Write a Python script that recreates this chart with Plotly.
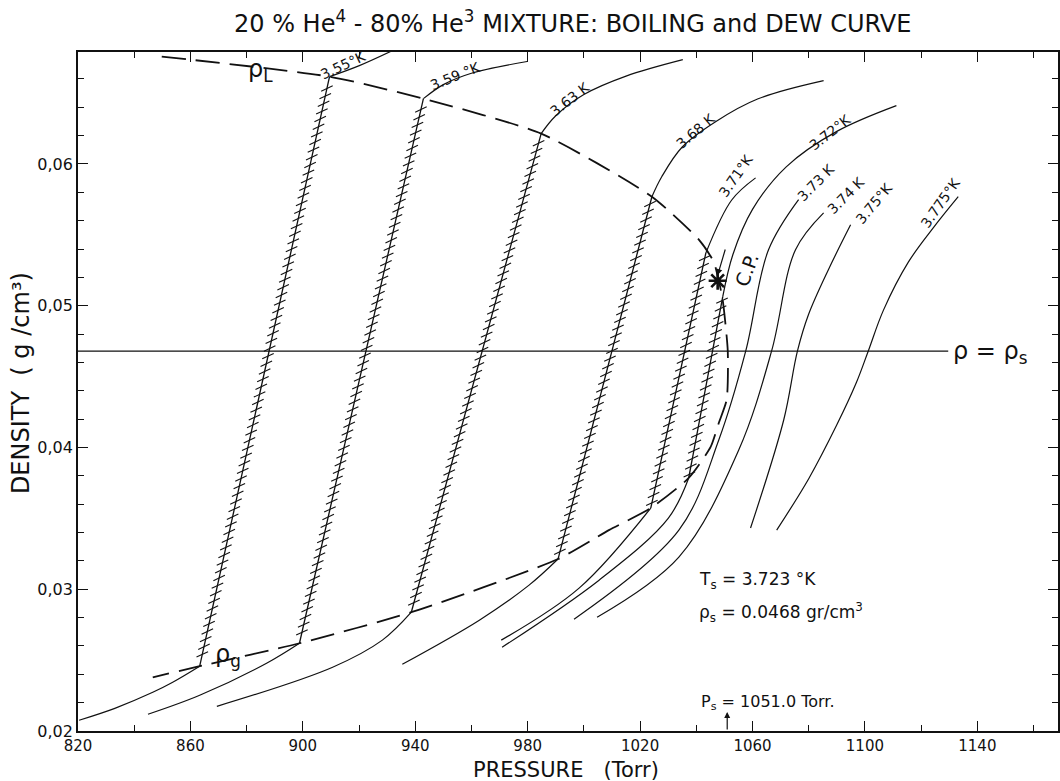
import numpy as np
import plotly.graph_objects as go

# ---------------- data (pressure in Torr, density in g/cm3) ----------------
dome_P = [849.8, 909.5, 942.9, 984.8, 1024.2, 1040.9, 1046.2, 1048.0, 1049.4, 1051.2,
          1050.8, 1048.0, 1045.1, 1037.3, 1023.8, 1008.9, 990.8, 938.6, 898.8, 863.3, 846.6]
dome_rho = [0.06758, 0.06616, 0.06461, 0.06214, 0.05769, 0.05466, 0.0531, 0.05176, 0.0504, 0.0468,
            0.04336, 0.04173, 0.04004, 0.03785, 0.03573, 0.03417, 0.03213, 0.02838, 0.02619, 0.02457, 0.02379]

# isotherms: gas branch, tie line (hatched), liquid branch
gas_355_P = [820.4, 833.1, 846.6, 853.7, 863.3]
gas_355_rho = [0.02076, 0.0216, 0.02273, 0.02344, 0.02457]
liq_355_P = [909.5, 920.1, 931.9]
liq_355_rho = [0.06616, 0.06694, 0.068]

gas_359_P = [844.9, 863.3, 887.1, 898.8]
gas_359_rho = [0.02118, 0.02252, 0.02478, 0.02619]
liq_359_P = [942.9, 950.0, 960.0, 979.8]
liq_359_rho = [0.06461, 0.06560, 0.06640, 0.06723]

gas_363_P = [869.4, 910.6, 928.3, 938.6]
gas_363_rho = [0.02174, 0.0245, 0.02641, 0.02838]
liq_363_P = [984.8, 990.0, 1000.0, 1015.0, 1035.2]
liq_363_rho = [0.06214, 0.06340, 0.06490, 0.06620, 0.06736]

gas_368_P = [935.4, 962.8, 980.5, 990.8]
gas_368_rho = [0.02471, 0.02782, 0.03029, 0.03213]
liq_368_P = [1024.2, 1027.7, 1035.0, 1047.0, 1062.0, 1085.3]
liq_368_rho = [0.05769, 0.0591, 0.06120, 0.06300, 0.06460, 0.06588]

gas_371_P = [970.6, 998.3, 1023.8]
gas_371_rho = [0.02641, 0.03008, 0.03573]
liq_371_P = [1043.4, 1052.6, 1061.1]
liq_371_rho = [0.05372, 0.05746, 0.05902]

gas_372_P = [970.9, 1005.4, 1030.0, 1037.3]
gas_372_rho = [0.02591, 0.03064, 0.0350, 0.03785]
liq_372_P = [1049.4, 1053.0, 1060.0, 1072.0, 1090.0, 1111.2]
liq_372_rho = [0.05062, 0.05360, 0.05680, 0.05980, 0.06230, 0.06412]

# tie lines (gas end -> liquid end)
tie_P = {"3.55": (863.3, 909.5), "3.59": (898.8, 942.9), "3.63": (938.6, 984.8),
         "3.68": (990.8, 1024.2), "3.71": (1023.8, 1043.4), "3.72": (1037.3, 1049.4)}
tie_rho = {"3.55": (0.02457, 0.06616), "3.59": (0.02619, 0.06461), "3.63": (0.02838, 0.06214),
           "3.68": (0.03213, 0.05769), "3.71": (0.03573, 0.05372), "3.72": (0.03785, 0.05062)}

# supercritical isotherms
iso_373_P = [996.5, 1033.8, 1048.0, 1057.6, 1065.7, 1076.4]
iso_373_rho = [0.02789, 0.03417, 0.04053, 0.04681, 0.05395, 0.05749]
iso_374_P = [1004.7, 1033.8, 1055.1, 1066.8, 1075.3, 1085.3]
iso_374_rho = [0.02803, 0.03227, 0.03982, 0.04681, 0.05395, 0.05655]
iso_375_P = [1059.3, 1071.1, 1076.0, 1079.9, 1087.0, 1094.9]
iso_375_rho = [0.03432, 0.04194, 0.04681, 0.04936, 0.05254, 0.05571]
iso_3775_P = [1068.6, 1080.0, 1090.0, 1097.0, 1101.2, 1106.6, 1115.5, 1124.3, 1133.2]
iso_3775_rho = [0.03417, 0.03780, 0.04160, 0.04460, 0.04681, 0.04969, 0.05309, 0.05549, 0.05769]

rho_s = 0.0468
P_s = 1051.0
T_s = 3.723
cp_P, cp_rho = 1047.6, 0.05176

x_ticks = [820, 860, 900, 940, 980, 1020, 1060, 1100, 1140]
y_ticks = [0.02, 0.03, 0.04, 0.05, 0.06]
y_ticklabels = ["0,02", "0,03", "0,04", "0,05", "0,06"]

# ---------------- layout geometry ----------------
W, H = 1060, 781
ML, MR, MT, MB = 78, 0, 52, 50
XR = [820, 1168.7]
YR = [0.02, 0.0679]
PW, PH = W - ML - MR, H - MT - MB


def px2x(px):
    return XR[0] + (px - ML) / PW * (XR[1] - XR[0])


def px2y(py):
    return YR[0] + (H - MB - py) / PH * (YR[1] - YR[0])


def pxp(px):  # pixel -> paper x
    return (px - ML) / PW


def pyp(py):  # pixel -> paper y
    return (H - MB - py) / PH


FONT = "DejaVu Sans"
BLK = "#111"
fig = go.Figure()


def solid(P, r, w=1.2):
    fig.add_trace(go.Scatter(x=P, y=r, mode="lines", line=dict(color=BLK, width=w, shape="spline", smoothing=1.0),
                             hoverinfo="skip", showlegend=False))


# dome (dashed)
fig.add_trace(go.Scatter(x=dome_P, y=dome_rho, mode="lines",
                         line=dict(color=BLK, width=1.8, dash="24px,10px", shape="spline", smoothing=0.6),
                         hoverinfo="skip", showlegend=False))

for P, r in [(gas_355_P, gas_355_rho), (liq_355_P, liq_355_rho), (gas_359_P, gas_359_rho), (liq_359_P, liq_359_rho),
             (gas_363_P, gas_363_rho), (liq_363_P, liq_363_rho), (gas_368_P, gas_368_rho), (liq_368_P, liq_368_rho),
             (gas_371_P, gas_371_rho), (liq_371_P, liq_371_rho), (gas_372_P, gas_372_rho), (liq_372_P, liq_372_rho),
             (iso_373_P, iso_373_rho), (iso_374_P, iso_374_rho), (iso_375_P, iso_375_rho), (iso_3775_P, iso_3775_rho)]:
    solid(P, r)

# hatched tie lines
sx = PW / (XR[1] - XR[0])
sy = PH / (YR[1] - YR[0])
for k in tie_P:
    P0, P1 = tie_P[k]
    r0, r1 = tie_rho[k]
    fig.add_trace(go.Scatter(x=[P0, P1], y=[r0, r1], mode="lines", line=dict(color=BLK, width=1.3),
                             hoverinfo="skip", showlegend=False))
    L = np.hypot((P1 - P0) * sx, (r1 - r0) * sy)
    n = int(L / 8.0)
    t = np.linspace(0.02, 0.98, n)
    fig.add_trace(go.Scatter(x=P0 + t * (P1 - P0), y=r0 + t * (r1 - r0), mode="markers",
                             marker=dict(symbol="line-ne-open", size=9, angle=20, color=BLK,
                                         line=dict(color=BLK, width=1.1)),
                             hoverinfo="skip", showlegend=False))

# rho = rho_s line
fig.add_trace(go.Scatter(x=[XR[0], px2x(950)], y=[rho_s, rho_s], mode="lines", line=dict(color=BLK, width=1.3),
                         hoverinfo="skip", showlegend=False))

# critical point
fig.add_trace(go.Scatter(x=[cp_P], y=[cp_rho], mode="markers",
                         marker=dict(symbol="asterisk-open", size=15, color=BLK, line=dict(color=BLK, width=2.6)),
                         hoverinfo="skip", showlegend=False))

ann = []


def label(px, py, text, size=14, angle=0, **kw):
    d = dict(x=pxp(px), y=pyp(py), xref="paper", yref="paper", text=text, showarrow=False, textangle=angle,
             xanchor="center", yanchor="middle", font=dict(family=FONT, size=size, color=BLK))
    d.update(kw)
    ann.append(d)


label(344, 65, "3.55°K", angle=-25)
label(456, 76, "3.59 °K", angle=-22)
label(571, 99, "3.63 K", angle=-38)
label(697, 131, "3.68 K", angle=-40)
label(832, 132, "3.72°K", angle=-38)
label(737, 176, "3.71°K", angle=-55)
label(818, 182, "3.73 K", angle=-45)
label(848, 195, "3.74 K", angle=-45)
label(876, 203, "3.75°K", angle=-50)
label(942, 203, "3.775°K", angle=-55)

label(261, 70, "ρ<sub>L</sub>", size=24)
label(228, 655, "ρ<sub>g</sub>", size=24)
label(992, 352, "ρ = ρ<sub>s</sub>", size=24)
label(748, 270, "C.P.", size=19, angle=-70)
ann.append(dict(x=cp_P, y=cp_rho + 0.0004, ax=px2x(727), ay=px2y(248), xref="x", yref="y", axref="x", ayref="y",
                text="", showarrow=True, arrowhead=2, arrowsize=1, arrowwidth=1.2, arrowcolor=BLK))

label(698, 580, "T<sub>s</sub> = %.3f °K" % T_s, size=17, xanchor="left")
label(698, 612, "ρ<sub>s</sub> = %.4f gr/cm<sup>3</sup>" % rho_s, size=17, xanchor="left")
label(700, 702, "P<sub>s</sub> = %.1f Torr." % P_s, size=16, xanchor="left")
ann.append(dict(x=P_s, y=px2y(712), ax=P_s, ay=YR[0], xref="x", yref="y", axref="x", ayref="y",
                text="", showarrow=True, arrowhead=2, arrowsize=1, arrowwidth=1.2, arrowcolor=BLK))

label(574, 22, "20 % He<sup>4</sup> - 80% He<sup>3</sup> MIXTURE: BOILING and DEW CURVE", size=24)
label(567, 770, "PRESSURE   (Torr)", size=21)
label(21, 383, "DENSITY  ( g /cm³)", size=24, angle=-90)
fig.update_layout(annotations=ann)

fig.update_layout(
    width=W, height=H, margin=dict(l=ML, r=MR, t=MT, b=MB),
    plot_bgcolor="white", paper_bgcolor="white",
    xaxis=dict(range=XR, tickvals=x_ticks, ticks="inside", ticklen=10, tickwidth=1.3, tickcolor=BLK,
               showline=True, linecolor=BLK, linewidth=1.8, mirror="allticks", showgrid=False, zeroline=False,
               tickfont=dict(family=FONT, size=15, color=BLK),
               minor=dict(ticks="inside", dtick=20, tick0=820, ticklen=6, tickcolor=BLK, showgrid=False)),
    yaxis=dict(range=YR, tickvals=y_ticks, ticktext=y_ticklabels, ticks="inside", ticklen=10, tickwidth=1.3,
               tickcolor=BLK, showline=True, linecolor=BLK, linewidth=1.8, mirror="allticks", showgrid=False,
               zeroline=False, tickfont=dict(family=FONT, size=16, color=BLK),
               minor=dict(ticks="inside", dtick=0.002, tick0=0.02, ticklen=6, tickcolor=BLK, showgrid=False)),
)
fig.write_html("out.html")
